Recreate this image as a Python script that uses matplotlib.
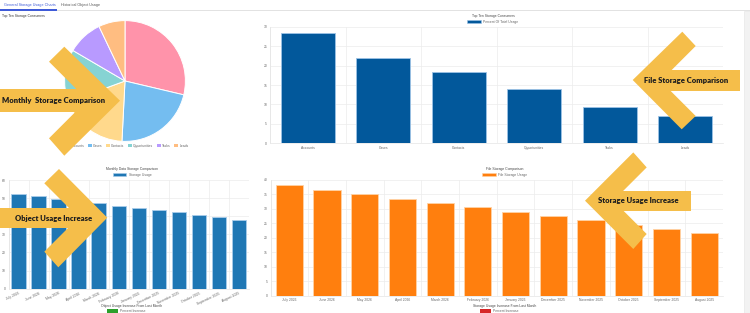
import numpy as np
import matplotlib
matplotlib.use("Agg")
import matplotlib.pyplot as plt
from matplotlib.patches import Polygon, Rectangle

plt.rcParams['font.family'] = ['Liberation Sans', 'DejaVu Sans']

# data
objects = ['Accounts', 'Cases', 'Contacts', 'Opportunities', 'Tasks', 'Leads']
pct_usage = [28.4, 21.9, 18.4, 13.9, 9.4, 7.0]
pie_colors = ['#ff93aa', '#74bdf0', '#ffd98c', '#86d3d3', '#b89aff', '#ffbd81']

months = ['July 2026', 'June 2026', 'May 2026', 'April 2026', 'March 2026',
          'February 2026', 'January 2026', 'December 2025', 'November 2025',
          'October 2025', 'September 2025', 'August 2025']
data_storage = [52.3, 51.0, 49.5, 48.4, 47.2, 45.9, 44.6, 43.3, 42.2, 40.9, 39.5, 38.1]
file_storage = [38.2, 36.6, 35.2, 33.6, 32.1, 30.6, 29.1, 27.6, 26.1, 24.6, 23.1, 21.6]

W, H = 750, 313
fig = plt.figure(figsize=(W / 100, H / 100), dpi=100)
fig.patch.set_facecolor('white')

def box(x0, y0, x1, y1):
    return [x0 / W, 1 - y1 / H, (x1 - x0) / W, (y1 - y0) / H]

def pt(x, y):
    return (x / W, 1 - y / H)

TXT = '#666666'
FS = 2.4

def bar_panel(rect, labels, values, color, edge, ymax, step, title, leg, title_xy, leg_y, rot=0):
    ax = fig.add_axes(rect)
    n = len(labels)
    x = np.arange(n)
    ax.bar(x, values, width=0.72, color=color, edgecolor=edge, linewidth=0.6, zorder=2)
    ax.set_xlim(-0.5, n - 0.5)
    ax.set_ylim(0, ymax)
    ax.set_yticks(np.arange(0, ymax + 1, step))
    ax.set_xticks(x)
    if rot:
        ax.set_xticklabels(labels, rotation=rot, ha='right', rotation_mode='anchor')
    else:
        ax.set_xticklabels(labels)
    ax.set_xticks(np.arange(-0.5, n, 1), minor=True)
    ax.grid(which='minor', axis='x', color='#ececec', linewidth=0.5, zorder=0)
    ax.grid(which='major', axis='y', color='#ececec', linewidth=0.5, zorder=0)
    ax.tick_params(which='both', length=0, labelsize=FS, colors=TXT, pad=2)
    for s in ['top', 'right']:
        ax.spines[s].set_visible(False)
    for s in ['left', 'bottom']:
        ax.spines[s].set_color('#e4e4e4')
        ax.spines[s].set_linewidth(0.5)
    fig.text(*pt(*title_xy), title, fontsize=FS, color='#444444', ha='center', va='center')
    h = Rectangle((0, 0), 1, 1, facecolor=color, edgecolor=edge, linewidth=0.4)
    ax.legend([h], [leg], loc='center', bbox_to_anchor=pt(title_xy[0], leg_y),
              bbox_transform=fig.transFigure, frameon=False, fontsize=FS,
              handlelength=4, handleheight=0.9, labelcolor=TXT, borderpad=0)
    return ax

# tabs
fig.text(*pt(4, 5), 'General Storage Usage Charts', fontsize=2.7, color='#3f5bd8', va='center')
fig.text(*pt(61, 5), 'Historical Object Usage', fontsize=2.7, color='#555555', va='center')
fig.patches.append(Rectangle(pt(0, 10.8), 750 / W, 0.6 / H, transform=fig.transFigure,
                             facecolor='#e2e2e2', edgecolor='none'))
fig.patches.append(Rectangle(pt(0, 10.6), 57 / W, 1.2 / H, transform=fig.transFigure,
                             facecolor='#3f5bd8', edgecolor='none'))
# scrollbar strip
fig.patches.append(Rectangle(pt(744, 313), 6 / W, 302 / H, transform=fig.transFigure,
                             facecolor='#f2f2f2', edgecolor='#e4e4e4', linewidth=0.4))

# pie
fig.text(*pt(2, 16), 'Top Ten Storage Consumers', fontsize=FS, color='#333333', va='center')
axp = fig.add_axes(box(64, 20, 186, 142))
axp.pie(pct_usage, colors=pie_colors, startangle=90, counterclock=False,
        wedgeprops=dict(edgecolor='white', linewidth=0.7))
axp.set_xlim(-1.01, 1.01)
axp.set_ylim(-1.01, 1.01)
axp.set_aspect('equal')
hs = [Rectangle((0, 0), 1, 1, facecolor=c, edgecolor='none') for c in pie_colors]
axp.legend(hs, objects, loc='center', bbox_to_anchor=pt(127, 146),
           bbox_transform=fig.transFigure, ncol=6, frameon=False, fontsize=FS,
           handlelength=1.2, handleheight=0.9, handletextpad=0.4, columnspacing=1.0,
           labelcolor=TXT, borderpad=0)

bar_panel(box(270, 26.7, 723, 143.3), objects, pct_usage, '#02589b', '#9cc2e6', 30, 5,
          'Top Ten Storage Consumers', 'Percent Of Total Usage', (493, 16), 22)
bar_panel(box(8.5, 180, 249, 288.7), months, data_storage, '#1f77b4', '#a9cdea', 60, 10,
          'Monthly Data Storage Comparison', 'Storage Usage', (132, 168.5), 175, rot=25)
bar_panel(box(270.5, 180, 723, 295.7), months, file_storage, '#ff7f0e', '#ffd3a6', 40, 5,
          'File Storage Comparison', 'File Storage Usage', (505, 168.5), 175)

# next charts, cut off at the bottom edge
for cx, ttl, col in [(132, 'Object Usage Increase From Last Month', '#2ca02c'),
                     (505, 'Storage Usage Increase From Last Month', '#d62728')]:
    fig.text(*pt(cx, 305.5), ttl, fontsize=FS, color='#444444', ha='center', va='center')
    fig.patches.append(Rectangle(pt(cx - 25, 313), 11 / W, 4 / H, transform=fig.transFigure,
                                 facecolor=col, edgecolor='none'))
    fig.text(*pt(cx - 12, 311.5), 'Percent Increase', fontsize=FS, color=TXT, va='center')

# yellow callout arrows
YEL = '#f5be4a'

def arrow(shaft, chevron, text, tc):
    x0, y0, x1, y1 = shaft
    fig.patches.append(Polygon([pt(x0, y0), pt(x1, y0), pt(x1, y1), pt(x0, y1)],
                               closed=True, transform=fig.transFigure,
                               facecolor=YEL, edgecolor='none', zorder=10))
    fig.patches.append(Polygon([pt(*p) for p in chevron], closed=True,
                               transform=fig.transFigure, facecolor=YEL,
                               edgecolor='none', zorder=10))
    fig.text(*pt(*tc), text, fontsize=5.5, fontweight='heavy', family=['Lato', 'DejaVu Sans'],
             color='#1e1e1e', ha='center', va='center', zorder=11)

arrow((0, 89, 100, 112),
      [(64.3, 46.7), (120, 100.7), (64.3, 155.7), (49, 138.3), (87.3, 100), (49, 61.7)],
      'Monthly  Storage Comparison', (53.5, 100.5))
arrow((650, 70, 740, 90.7),
      [(682.3, 31.7), (632.7, 80), (681.7, 129.3), (695.7, 116), (660.7, 81), (695.7, 46)],
      'File Storage Comparison', (686, 80.5))
arrow((0, 207.7, 95, 228.3),
      [(59, 169), (107.3, 217.7), (58.3, 267.3), (44.3, 251.7), (78.5, 217.5), (44.3, 183.3)],
      'Object Usage Increase', (54, 218))
arrow((600, 191, 691, 210.7),
      [(633.3, 152.4), (585, 200.7), (633.3, 249), (646.7, 234), (613.4, 200.7), (646.7, 167.4)],
      'Storage Usage Increase', (638, 201))

fig.savefig('out.png', dpi=100)
